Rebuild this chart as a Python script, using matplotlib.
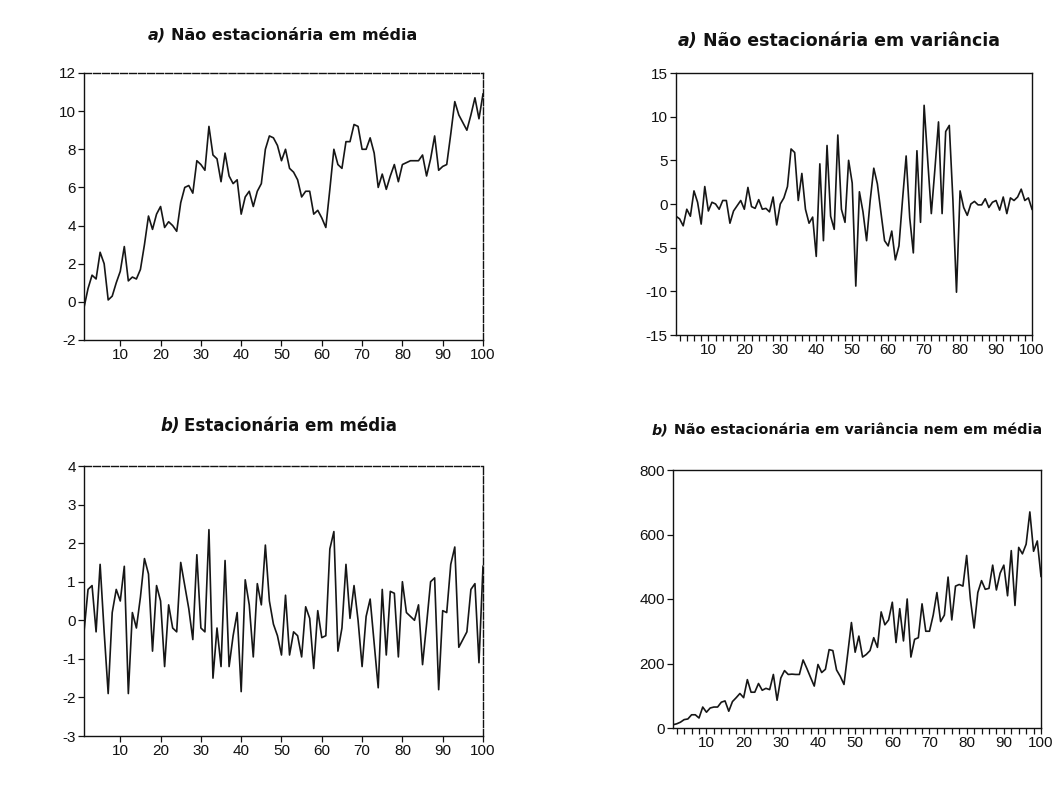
import numpy as np
import matplotlib
matplotlib.use("Agg")
import matplotlib.pyplot as plt
from matplotlib.ticker import MultipleLocator

plt.rcParams["font.family"] = ["Liberation Sans", "DejaVu Sans"]
plt.rcParams["axes.unicode_minus"] = False

t = np.arange(1, 101)

# a) random walk: non-stationary in mean
mean_walk = [-0.3, 0.7, 1.4, 1.2, 2.6, 2.0, 0.1, 0.3, 1.0, 1.6,
             2.9, 1.1, 1.3, 1.2, 1.7, 3.0, 4.5, 3.8, 4.6, 5.0,
             3.9, 4.2, 4.0, 3.7, 5.2, 6.0, 6.1, 5.7, 7.4, 7.2,
             6.9, 9.2, 7.7, 7.5, 6.3, 7.8, 6.6, 6.2, 6.4, 4.6,
             5.5, 5.8, 5.0, 5.8, 6.2, 8.0, 8.7, 8.6, 8.2, 7.4,
             8.0, 7.0, 6.8, 6.4, 5.5, 5.8, 5.8, 4.6, 4.8, 4.4,
             3.9, 5.9, 8.0, 7.2, 7.0, 8.4, 8.4, 9.3, 9.2, 8.0,
             8.0, 8.6, 7.8, 6.0, 6.7, 5.9, 6.6, 7.2, 6.3, 7.2,
             7.3, 7.4, 7.4, 7.4, 7.7, 6.6, 7.5, 8.7, 6.9, 7.1,
             7.2, 8.8, 10.5, 9.8, 9.4, 9.0, 9.8, 10.7, 9.6, 10.9]

# a) bursts of volatility: non-stationary in variance
var_burst = [-1.4, -1.7, -2.5, -0.6, -1.4, 1.5, 0.2, -2.3, 2.0, -0.8,
             0.2, 0.0, -0.6, 0.4, 0.4, -2.2, -0.8, -0.2, 0.4, -0.6,
             1.9, -0.3, -0.5, 0.5, -0.6, -0.5, -0.9, 0.8, -2.4, 0.0,
             0.7, 2.0, 6.3, 5.9, 0.4, 3.5, -0.6, -2.2, -1.5, -6.0,
             4.6, -4.2, 6.7, -1.4, -2.9, 7.9, -0.6, -2.1, 5.0, 2.4,
             -9.4, 1.4, -0.9, -4.2, 0.4, 4.1, 2.3, -1.0, -4.2, -4.8,
             -3.1, -6.4, -4.8, 0.5, 5.5, -1.6, -5.6, 6.1, -2.1, 11.3,
             5.0, -1.1, 4.0, 9.4, -1.1, 8.3, 9.0, 0.5, -10.1, 1.5,
             -0.4, -1.3, 0.0, 0.3, -0.1, -0.1, 0.6, -0.4, 0.2, 0.4,
             -0.7, 0.8, -1.1, 0.7, 0.4, 0.8, 1.7, 0.4, 0.7, -0.6]

# b) white noise: stationary in mean
noise = [-0.3, 0.8, 0.9, -0.3, 1.45, -0.3, -1.9, 0.2, 0.8, 0.5,
         1.4, -1.9, 0.2, -0.2, 0.6, 1.6, 1.2, -0.8, 0.9, 0.5,
         -1.2, 0.4, -0.2, -0.3, 1.5, 0.9, 0.3, -0.5, 1.7, -0.2,
         -0.3, 2.35, -1.5, -0.2, -1.2, 1.55, -1.2, -0.4, 0.2, -1.85,
         1.05, 0.4, -0.95, 0.95, 0.4, 1.95, 0.5, -0.1, -0.4, -0.9,
         0.65, -0.9, -0.3, -0.4, -0.95, 0.35, 0.05, -1.25, 0.25, -0.45,
         -0.4, 1.85, 2.3, -0.8, -0.2, 1.45, 0.05, 0.9, 0.0, -1.2,
         0.1, 0.55, -0.6, -1.75, 0.8, -0.9, 0.75, 0.7, -0.95, 1.0,
         0.2, 0.1, 0.0, 0.4, -1.15, -0.1, 1.0, 1.1, -1.8, 0.25,
         0.2, 1.45, 1.9, -0.7, -0.5, -0.3, 0.8, 0.95, -1.1, 1.4]

# b) trend with growing spread: non-stationary in variance and mean
trend = [10, 13, 18, 26, 28, 41, 41, 31, 65, 49,
         62, 65, 65, 80, 84, 52, 82, 94, 107, 94,
         150, 111, 111, 138, 117, 123, 119, 166, 86, 155,
         178, 166, 167, 166, 166, 211, 185, 157, 130, 197,
         172, 182, 243, 240, 180, 160, 135, 230, 327, 235,
         285, 220, 228, 240, 280, 250, 360, 320, 335, 390,
         265, 370, 270, 400, 220, 275, 280, 385, 300, 300,
         350, 420, 330, 350, 468, 335, 440, 445, 440, 535,
         400, 310, 420, 457, 430, 433, 505, 428, 480, 505,
         410, 550, 380, 560, 540, 570, 670, 548, 580, 470]

W, H = 1057, 796
fig = plt.figure(figsize=(W / 100, H / 100), dpi=100)


def px_axes(left, top, right, bottom):
    return fig.add_axes([left / W, 1 - bottom / H, (right - left) / W, (bottom - top) / H])


def style(ax, y, ylim, ystep, minor_x, dashed_frame):
    ax.plot(t, y, color="#161616", lw=1.2)
    ax.set_xlim(1, 100)
    ax.set_ylim(*ylim)
    ax.xaxis.set_major_locator(MultipleLocator(10))
    ax.yaxis.set_major_locator(MultipleLocator(ystep))
    if minor_x:
        ax.xaxis.set_minor_locator(MultipleLocator(2))
    ax.tick_params(which="both", direction="out", length=4, width=0.9,
                   labelsize=11, colors="#111111", pad=2)
    ax.tick_params(axis="x", which="both", top=False)
    ax.tick_params(axis="y", right=False)
    for s in ax.spines.values():
        s.set_linewidth(1.0)
        s.set_color("#111111")
    if dashed_frame:
        for k in ("top", "right"):
            ax.spines[k].set_linestyle((0, (5, 1.5)))


def title(x, y, tag, rest, size):
    # italic panel letter, then the bold caption right after it
    kw = dict(fontsize=size, fontweight="bold", va="baseline", ha="left",
              color="#111111", family="DejaVu Sans")
    first = fig.text(x / W, 1 - y / H, tag, fontstyle="italic", **kw)
    fig.canvas.draw()
    bb = first.get_window_extent()
    fig.text((bb.x1 + 5) / W, 1 - y / H, rest, **kw)


ax1 = px_axes(84, 73, 483, 340)
style(ax1, mean_walk, (-2, 12), 2, False, True)

ax2 = px_axes(676, 73, 1032, 335)
style(ax2, var_burst, (-15, 15), 5, True, False)

ax3 = px_axes(84, 466, 483, 736)
style(ax3, noise, (-3, 4), 1, False, True)

ax4 = px_axes(673, 470, 1041, 728)
style(ax4, trend, (0, 800), 200, True, False)

title(148, 40, "a)", "Não estacionária em média", 11.5)
title(678, 46, "a)", "Não estacionária em variância", 12.5)
title(160, 431, "b)", "Estacionária em média", 12)
title(652, 434, "b)", "Não estacionária em variância nem em média", 10.3)

fig.savefig("out.png", dpi=100)
